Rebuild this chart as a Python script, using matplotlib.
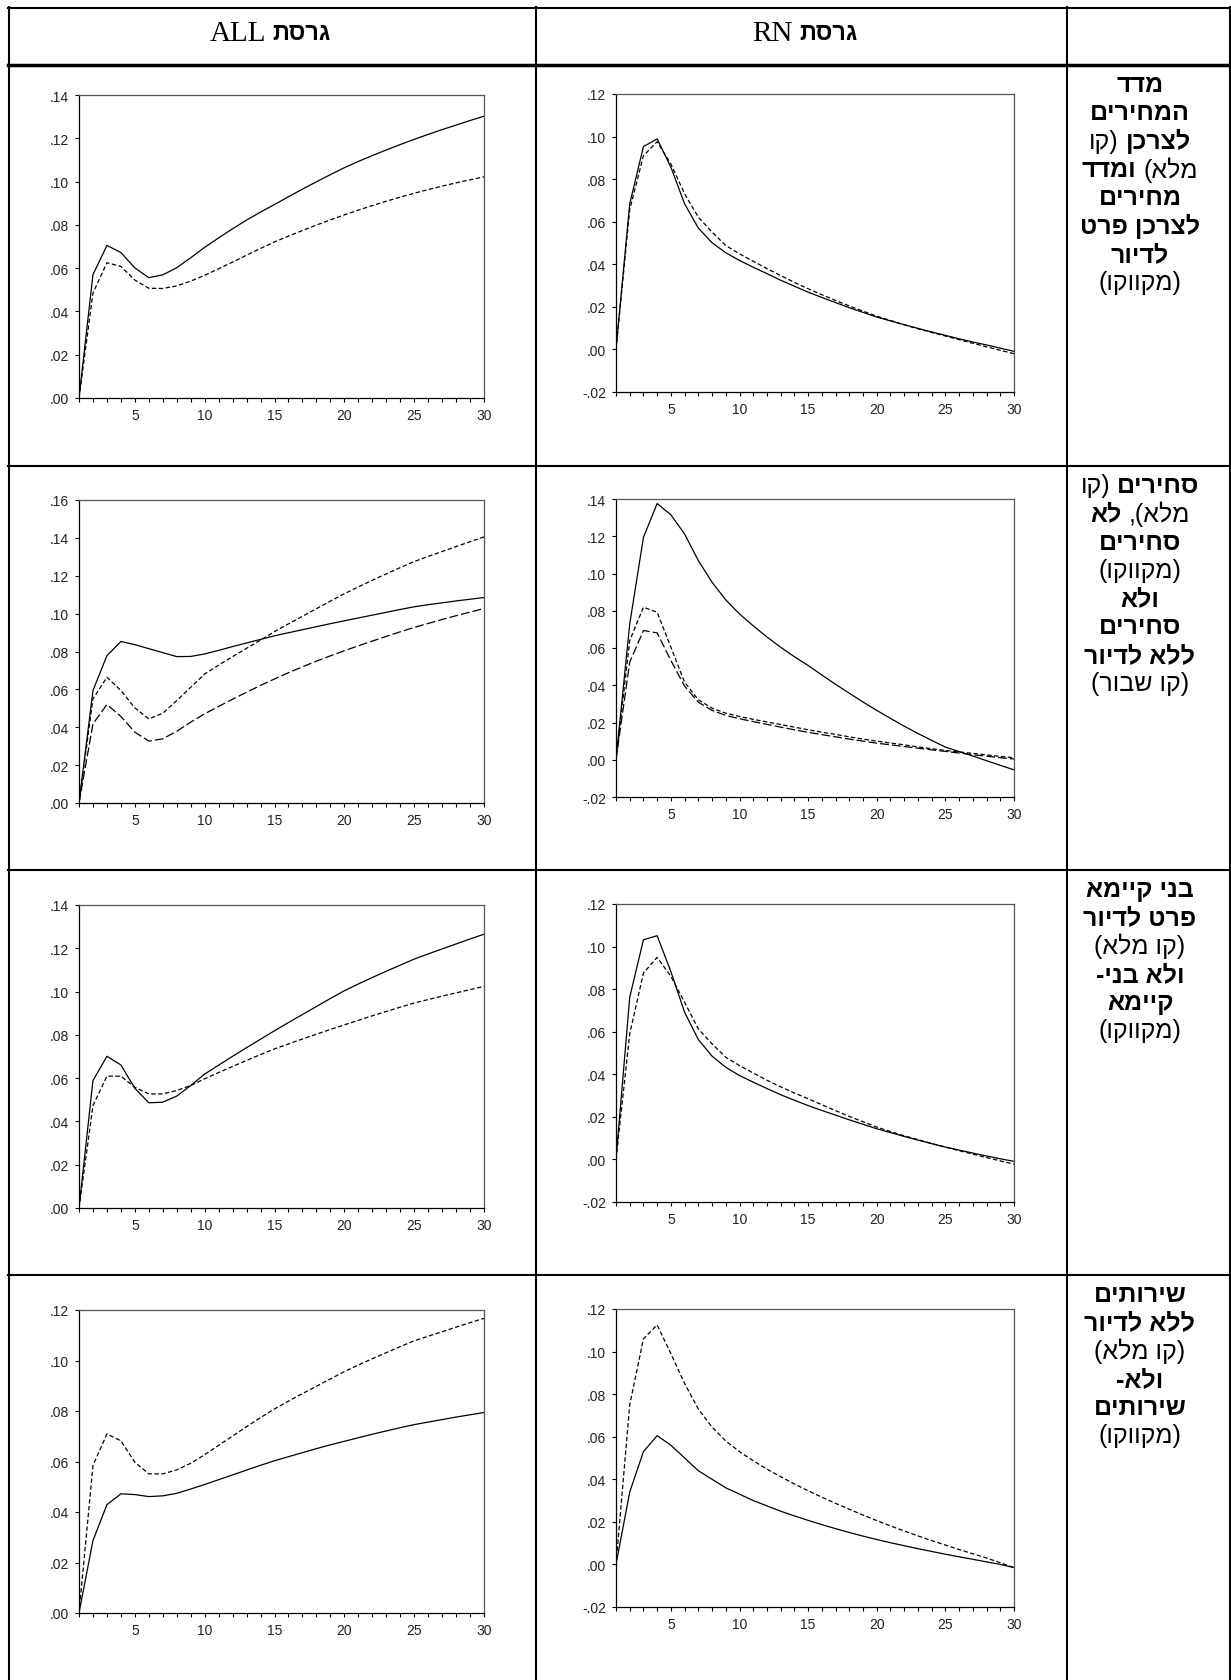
import matplotlib
matplotlib.use("Agg")
import matplotlib.pyplot as plt
from matplotlib.lines import Line2D
from matplotlib.ticker import MultipleLocator, FixedLocator, FuncFormatter

W, H = 1231, 1681
fig = plt.figure(figsize=(W / 100, H / 100), dpi=100)

periods = list(range(1, 31))

# row 1: CPI (solid) vs CPI excl. housing (dashed)
cpi_all = [0, .0570, .0705, .0672, .0601, .0556, .0569, .0602, .0648, .0696,
           .0740, .0782, .0822, .0859, .0894, .0930, .0965, .0999, .1032, .1064,
           .1093, .1120, .1146, .1171, .1195, .1218, .1240, .1261, .1282, .1302]
cpi_exh_all = [0, .0485, .0625, .0608, .0545, .0507, .0506, .0518, .0540, .0567,
               .0597, .0628, .0660, .0691, .0721, .0748, .0774, .0799, .0823, .0846,
               .0868, .0889, .0909, .0928, .0946, .0963, .0979, .0994, .1008, .1022]
cpi_rn = [0, .0684, .0953, .0989, .0856, .0684, .0570, .0501, .0454, .0418,
          .0386, .0356, .0325, .0297, .0269, .0244, .0220, .0196, .0174, .0152,
          .0134, .0116, .0099, .0082, .0066, .0050, .0035, .0021, .0006, -.0009]
cpi_exh_rn = [0, .0657, .0910, .0976, .0871, .0731, .0621, .0551, .0488, .0449,
              .0414, .0380, .0347, .0315, .0285, .0257, .0230, .0204, .0180, .0156,
              .0136, .0116, .0097, .0080, .0063, .0046, .0029, .0012, -.0004, -.0020]

# row 2: tradables (solid), non-tradables (dashed), non-tradables excl. housing (broken)
trad_all = [0, .0594, .0778, .0853, .0836, .0815, .0794, .0773, .0774, .0787,
            .0806, .0826, .0845, .0864, .0883, .0899, .0915, .0931, .0947, .0962,
            .0977, .0992, .1007, .1022, .1036, .1047, .1057, .1067, .1076, .1085]
nontrad_all = [0, .0550, .0664, .0594, .0502, .0444, .0474, .0541, .0611, .0681,
               .0728, .0773, .0817, .0860, .0905, .0946, .0986, .1026, .1066, .1105,
               .1141, .1176, .1210, .1243, .1275, .1302, .1328, .1354, .1380, .1405]
nontrad_exh_all = [0, .0418, .0520, .0457, .0374, .0327, .0339, .0379, .0427, .0471,
                   .0510, .0548, .0585, .0621, .0655, .0688, .0719, .0749, .0777, .0804,
                   .0830, .0855, .0880, .0904, .0927, .0948, .0969, .0989, .1008, .1027]
trad_rn = [0, .0729, .1194, .1376, .1315, .1212, .1069, .0953, .0858, .0783,
           .0719, .0659, .0604, .0553, .0506, .0455, .0405, .0357, .0310, .0265,
           .0222, .0180, .0141, .0104, .0068, .0044, .0020, -.0005, -.0030, -.0054]
nontrad_rn = [0, .0640, .0819, .0792, .0604, .0416, .0322, .0277, .0250, .0232,
              .0217, .0203, .0189, .0175, .0161, .0148, .0136, .0123, .0111, .0100,
              .0090, .0080, .0069, .0059, .0050, .0042, .0034, .0026, .0018, .0011]
nontrad_exh_rn = [0, .0524, .0694, .0681, .0533, .0395, .0309, .0265, .0238, .0220,
                  .0205, .0190, .0175, .0161, .0147, .0135, .0123, .0111, .0100, .0089,
                  .0080, .0071, .0062, .0053, .0045, .0036, .0027, .0019, .0011, .0004]

# row 3: durables excl. housing (solid) vs non-durables (dashed)
dur_all = [0, .0589, .0701, .0661, .0553, .0486, .0489, .0517, .0566, .0619,
           .0660, .0701, .0741, .0780, .0819, .0857, .0894, .0931, .0968, .1004,
           .1035, .1065, .1094, .1122, .1150, .1174, .1197, .1220, .1243, .1265]
nondur_all = [0, .0473, .0609, .0609, .0558, .0527, .0527, .0543, .0566, .0597,
              .0626, .0654, .0682, .0709, .0735, .0758, .0781, .0803, .0825, .0846,
              .0867, .0888, .0908, .0928, .0947, .0963, .0979, .0994, .1009, .1024]
dur_rn = [0, .0762, .1032, .1051, .0882, .0691, .0563, .0485, .0433, .0394,
          .0363, .0333, .0304, .0278, .0253, .0230, .0208, .0186, .0165, .0144,
          .0126, .0108, .0091, .0074, .0058, .0044, .0030, .0016, .0003, -.0009]
nondur_rn = [0, .0590, .0876, .0949, .0860, .0738, .0613, .0543, .0480, .0441,
             .0406, .0372, .0341, .0312, .0285, .0257, .0229, .0202, .0177, .0152,
             .0131, .0111, .0093, .0075, .0058, .0041, .0025, .0009, -.0007, -.0022]

# row 4: services excl. housing (solid) vs non-services (dashed)
serv_all = [0, .0287, .0429, .0472, .0469, .0461, .0464, .0474, .0491, .0509,
            .0528, .0547, .0566, .0585, .0603, .0619, .0635, .0651, .0666, .0680,
            .0694, .0708, .0721, .0734, .0746, .0756, .0766, .0776, .0785, .0794]
nonserv_all = [0, .0584, .0709, .0682, .0597, .0551, .0551, .0567, .0593, .0627,
               .0664, .0701, .0738, .0774, .0808, .0839, .0869, .0898, .0927, .0956,
               .0982, .1007, .1031, .1055, .1078, .1096, .1114, .1132, .1150, .1167]
serv_rn = [0, .0340, .0530, .0605, .0560, .0500, .0440, .0400, .0360, .0330,
           .0300, .0275, .0250, .0228, .0207, .0187, .0168, .0150, .0133, .0117,
           .0102, .0088, .0074, .0061, .0048, .0036, .0024, .0012, .0000, -.0015]
nonserv_rn = [0, .0750, .1060, .1125, .0990, .0850, .0730, .0645, .0580, .0530,
              .0487, .0448, .0412, .0378, .0346, .0316, .0287, .0259, .0232, .0206,
              .0181, .0157, .0134, .0112, .0091, .0070, .0050, .0030, .0008, -.0015]

ylims_all = [(0, .14), (0, .16), (0, .14), (0, .12)]
ylims_rn = [(-.02, .12), (-.02, .14), (-.02, .12), (-.02, .12)]

SOLID = '-'
DASH = (0, (3.5, 2))
BROKEN = (0, (7, 2.5))

panels_all = [
    [(cpi_all, SOLID), (cpi_exh_all, DASH)],
    [(trad_all, SOLID), (nontrad_all, DASH), (nontrad_exh_all, BROKEN)],
    [(dur_all, SOLID), (nondur_all, DASH)],
    [(serv_all, SOLID), (nonserv_all, DASH)],
]
panels_rn = [
    [(cpi_rn, SOLID), (cpi_exh_rn, DASH)],
    [(trad_rn, SOLID), (nontrad_rn, DASH), (nontrad_exh_rn, BROKEN)],
    [(dur_rn, SOLID), (nondur_rn, DASH)],
    [(serv_rn, SOLID), (nonserv_rn, DASH)],
]

# row labels (logical order, each line: list of (text, bold))
row_labels = [
    [[("מדד", True)],
     [("המחירים", True)],
     [("לצרכן", True), ("(קו", False)],
     [("מלא)", False), ("ומדד", True)],
     [("מחירים", True)],
     [("לצרכן פרט", True)],
     [("לדיור", True)],
     [("(מקווקו)", False)]],
    [[("סחירים", True), ("(קו", False)],
     [("מלא),", False), ("לא", True)],
     [("סחירים", True)],
     [("(מקווקו)", False)],
     [("ולא", True)],
     [("סחירים", True)],
     [("ללא לדיור", True)],
     [("(קו שבור)", False)]],
    [[("בני קיימא", True)],
     [("פרט לדיור", True)],
     [("(קו מלא)", False)],
     [("ולא בני-", True)],
     [("קיימא", True)],
     [("(מקווקו)", False)]],
    [[("שירותים", True)],
     [("ללא לדיור", True)],
     [("(קו מלא)", False)],
     [("ולא-", True)],
     [("שירותים", True)],
     [("(מקווקו)", False)]],
]

HEB = ['Liberation Sans', 'DejaVu Sans']
SERIF = ['Liberation Serif', 'DejaVu Serif']
TICKFONT = ['Liberation Sans', 'DejaVu Sans']


def is_hebrew(s):
    return any('\u0590' <= c <= '\u05ff' for c in s)


def visual(s):
    # matplotlib has no bidi: reverse hebrew runs and mirror brackets
    if not is_hebrew(s):
        return s
    return s[::-1].translate(str.maketrans('()', ')('))


def rtl_line(xc, yc, segments, size):
    # segments in logical order -> first one goes on the right
    renderer = fig.canvas.get_renderer()
    parts = []
    for seg in segments:
        text, bold = seg[0], seg[1]
        fam = seg[2] if len(seg) > 2 else HEB
        sz = seg[3] if len(seg) > 3 else size
        t = fig.text(0, 1 - yc / H, visual(text), fontsize=sz, family=fam,
                     fontweight='bold' if bold else 'normal',
                     ha='left', va='center', color='black')
        parts.append((t, t.get_window_extent(renderer).width))
    space = size * 0.28 * 100 / 72
    total = sum(w for _, w in parts) + space * (len(parts) - 1)
    x = xc + total / 2
    for t, w in parts:
        t.set_x((x - w) / W)
        x -= w + space


def hline(y, x0, x1, lw=1.5):
    fig.add_artist(Line2D([x0 / W, x1 / W], [1 - y / H, 1 - y / H], color='black', lw=lw))


def vline(x, y0, y1, lw=1.5):
    fig.add_artist(Line2D([x / W, x / W], [1 - y0 / H, 1 - y1 / H], color='black', lw=lw))


def yfmt(v, pos):
    return f"{v:.2f}".replace("0.", ".")


# table grid
row_tops = [66, 467, 871, 1276]
hline(9, 8, 1231)
hline(66, 8, 1231, lw=2.5)
for y in row_tops[1:]:
    hline(y, 8, 1231)
for x in (8.5, 536, 1067, 1229.5):
    vline(x, 8, H)

# column headers
rtl_line(270, 34, [("גרסת", True, HEB, 17), ("ALL", False, SERIF, 21)], 17)
rtl_line(805, 34, [("גרסת", True, HEB, 17), ("RN", False, SERIF, 21)], 17)


def style_axes(ax, ylim):
    ax.set_xlim(1, 30)
    ax.set_ylim(*ylim)
    ax.xaxis.set_major_locator(FixedLocator([5, 10, 15, 20, 25, 30]))
    ax.xaxis.set_minor_locator(MultipleLocator(1))
    ax.yaxis.set_major_locator(MultipleLocator(0.02))
    ax.yaxis.set_major_formatter(FuncFormatter(yfmt))
    ax.tick_params(which='both', direction='out', length=3, width=0.8, color='black')
    ax.tick_params(axis='both', labelsize=10, labelcolor='#222222')
    ax.tick_params(axis='x', pad=4.5)
    ax.tick_params(axis='y', pad=4)
    ax.tick_params(which='both', top=False, right=False)
    for lab in ax.get_xticklabels() + ax.get_yticklabels():
        lab.set_family(TICKFONT)
    for side in ('left', 'bottom'):
        ax.spines[side].set_color('black')
        ax.spines[side].set_linewidth(0.9)
    for side in ('top', 'right'):
        ax.spines[side].set_color('#555555')
        ax.spines[side].set_linewidth(0.9)


for i in range(4):
    top_all = 96 + 405 * i
    ax = fig.add_axes([79 / W, 1 - (top_all + 303) / H, 405 / W, 303 / H])
    for series, ls in panels_all[i]:
        ax.plot(periods, series, color='black', lw=0.9, linestyle=ls)
    style_axes(ax, ylims_all[i])

    top_rn = 95 + 405 * i
    ax = fig.add_axes([616 / W, 1 - (top_rn + 298) / H, 398 / W, 298 / H])
    for series, ls in panels_rn[i]:
        ax.plot(periods, series, color='black', lw=0.9, linestyle=ls)
    style_axes(ax, ylims_rn[i])

    # row label text
    y = row_tops[i] + 19
    for line in row_labels[i]:
        rtl_line(1140, y, line, 18)
        y += 28.3

fig.savefig("out.png", dpi=100)
